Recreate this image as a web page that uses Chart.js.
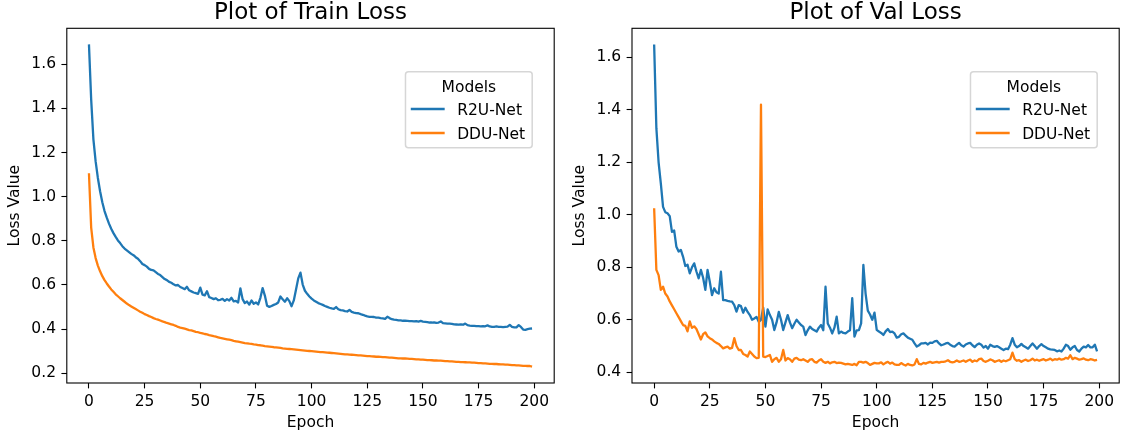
<!DOCTYPE html>
<html>
<head>
<meta charset="utf-8">
<script src="https://cdn.jsdelivr.net/npm/chart.js@4.4.1/dist/chart.umd.min.js"></script>
<style>
  html, body { margin: 0; padding: 0; background: #fff; }
  #wrap { position: relative; width: 1122px; height: 438px; }
  canvas { position: absolute; top: 0; }
  #train-loss { left: 0; }
  #val-loss { left: 561px; }
</style>
</head>
<body>
<div id="wrap">
  <canvas id="train-loss" width="561" height="438"></canvas>
  <canvas id="val-loss" width="561" height="438"></canvas>
</div>
<script>
const modelNames = ['R2U-Net', 'DDU-Net'];
const legendTitle = 'Models';
const panelTitles = ['Plot of Train Loss', 'Plot of Val Loss'];
const epochTicks = [0, 25, 50, 75, 100, 125, 150, 175, 200];
const trainYTicks = [0.2, 0.4, 0.6, 0.8, 1.0, 1.2, 1.4, 1.6];
const valYTicks = [0.4, 0.6, 0.8, 1.0, 1.2, 1.4, 1.6];

const trainR2U = [
  1.690, 1.440, 1.260, 1.160, 1.085, 1.025, 0.975, 0.935, 0.905, 0.878,
  0.855, 0.835, 0.818, 0.802, 0.790, 0.776, 0.765, 0.757, 0.749, 0.741,
  0.735, 0.726, 0.719, 0.708, 0.695, 0.690, 0.683, 0.673, 0.668, 0.666,
  0.658, 0.650, 0.645, 0.636, 0.627, 0.622, 0.614, 0.610, 0.603, 0.598,
  0.600, 0.591, 0.586, 0.581, 0.592, 0.576, 0.571, 0.566, 0.563, 0.560,
  0.588, 0.556, 0.553, 0.572, 0.545, 0.541, 0.536, 0.540, 0.531, 0.533,
  0.537, 0.528, 0.536, 0.530, 0.542, 0.526, 0.528, 0.521, 0.585, 0.536,
  0.518, 0.525, 0.511, 0.530, 0.515, 0.521, 0.512, 0.542, 0.586, 0.552,
  0.506, 0.501, 0.505, 0.510, 0.514, 0.521, 0.548, 0.535, 0.524, 0.540,
  0.527, 0.504, 0.530, 0.580, 0.630, 0.656, 0.602, 0.574, 0.560, 0.548,
  0.538, 0.530, 0.524, 0.518, 0.514, 0.510, 0.505, 0.501, 0.497, 0.494,
  0.492, 0.500, 0.490, 0.486, 0.485, 0.482, 0.480, 0.487, 0.478, 0.475,
  0.473, 0.472, 0.468, 0.465, 0.461, 0.458, 0.456, 0.456, 0.455, 0.452,
  0.452, 0.450, 0.449, 0.447, 0.456, 0.450, 0.445, 0.443, 0.442, 0.440,
  0.440, 0.438, 0.438, 0.437, 0.436, 0.436, 0.435, 0.436, 0.434, 0.437,
  0.434, 0.433, 0.432, 0.430, 0.430, 0.431, 0.428, 0.430, 0.435, 0.427,
  0.426, 0.425, 0.425, 0.424, 0.422, 0.421, 0.420, 0.422, 0.420, 0.425,
  0.418, 0.416, 0.415, 0.415, 0.414, 0.414, 0.413, 0.414, 0.413, 0.417,
  0.412, 0.410, 0.410, 0.412, 0.410, 0.410, 0.409, 0.410, 0.411, 0.419,
  0.410, 0.408, 0.408, 0.418, 0.410, 0.398, 0.397, 0.400, 0.402, 0.403
];

const trainDDU = [
  1.106, 0.860, 0.770, 0.722, 0.688, 0.662, 0.640, 0.622, 0.607, 0.593,
  0.580, 0.569, 0.558, 0.549, 0.540, 0.532, 0.524, 0.516, 0.509, 0.503,
  0.497, 0.491, 0.485, 0.479, 0.474, 0.468, 0.464, 0.459, 0.455, 0.450,
  0.446, 0.443, 0.439, 0.435, 0.432, 0.428, 0.425, 0.422, 0.419, 0.415,
  0.410, 0.407, 0.405, 0.402, 0.399, 0.396, 0.394, 0.391, 0.388, 0.386,
  0.383, 0.381, 0.378, 0.376, 0.373, 0.371, 0.368, 0.366, 0.363, 0.360,
  0.358, 0.356, 0.354, 0.352, 0.350, 0.347, 0.345, 0.343, 0.341, 0.339,
  0.337, 0.336, 0.334, 0.333, 0.331, 0.330, 0.328, 0.327, 0.325, 0.323,
  0.322, 0.321, 0.320, 0.318, 0.317, 0.316, 0.315, 0.313, 0.312, 0.311,
  0.310, 0.309, 0.308, 0.307, 0.306, 0.305, 0.304, 0.303, 0.302, 0.301,
  0.300, 0.299, 0.298, 0.297, 0.296, 0.296, 0.295, 0.294, 0.293, 0.292,
  0.291, 0.290, 0.289, 0.288, 0.287, 0.286, 0.286, 0.285, 0.284, 0.283,
  0.282, 0.281, 0.281, 0.280, 0.279, 0.278, 0.278, 0.277, 0.276, 0.275,
  0.275, 0.274, 0.273, 0.273, 0.272, 0.271, 0.271, 0.270, 0.269, 0.268,
  0.268, 0.267, 0.267, 0.266, 0.265, 0.265, 0.264, 0.263, 0.263, 0.262,
  0.262, 0.261, 0.260, 0.260, 0.259, 0.258, 0.258, 0.257, 0.257, 0.256,
  0.255, 0.255, 0.254, 0.254, 0.253, 0.252, 0.252, 0.251, 0.251, 0.250,
  0.249, 0.249, 0.248, 0.248, 0.247, 0.246, 0.246, 0.245, 0.245, 0.244,
  0.243, 0.243, 0.242, 0.242, 0.241, 0.240, 0.240, 0.239, 0.239, 0.238,
  0.237, 0.237, 0.236, 0.236, 0.235, 0.234, 0.234, 0.233, 0.233, 0.230
];

const valR2U = [
  1.649, 1.330, 1.200, 1.120, 1.030, 1.010, 1.006, 0.995, 0.935, 0.940,
  0.878, 0.860, 0.866, 0.840, 0.805, 0.810, 0.777, 0.800, 0.815, 0.784,
  0.758, 0.790, 0.760, 0.714, 0.790, 0.745, 0.694, 0.720, 0.705, 0.700,
  0.783, 0.675, 0.675, 0.672, 0.670, 0.669, 0.656, 0.631, 0.656, 0.652,
  0.627, 0.646, 0.630, 0.618, 0.600, 0.605, 0.611, 0.592, 0.600, 0.646,
  0.574, 0.640, 0.618, 0.600, 0.561, 0.590, 0.630, 0.600, 0.561, 0.590,
  0.618, 0.590, 0.568, 0.585, 0.600, 0.590, 0.580, 0.574, 0.542, 0.560,
  0.574, 0.565, 0.560, 0.555, 0.570, 0.580, 0.560, 0.726, 0.586, 0.570,
  0.548, 0.570, 0.612, 0.548, 0.555, 0.550, 0.548, 0.555, 0.560, 0.682,
  0.536, 0.560, 0.561, 0.586, 0.809, 0.700, 0.635, 0.620, 0.600, 0.627,
  0.562, 0.555, 0.550, 0.542, 0.556, 0.565, 0.553, 0.555, 0.548, 0.532,
  0.535, 0.545, 0.548, 0.540, 0.532, 0.528, 0.524, 0.510, 0.498, 0.503,
  0.510, 0.510, 0.512, 0.506, 0.513, 0.512, 0.518, 0.520, 0.510, 0.503,
  0.506, 0.510, 0.512, 0.505, 0.500, 0.498, 0.505, 0.512, 0.503, 0.498,
  0.506, 0.510, 0.512, 0.503, 0.496, 0.505, 0.510, 0.505, 0.494, 0.500,
  0.490, 0.505, 0.500, 0.497, 0.500, 0.495, 0.490, 0.485, 0.490, 0.488,
  0.505, 0.530, 0.505, 0.495, 0.500, 0.508, 0.500, 0.495, 0.490, 0.500,
  0.510, 0.500, 0.490, 0.500, 0.507, 0.500, 0.495, 0.490, 0.487, 0.486,
  0.485, 0.480, 0.483, 0.479, 0.490, 0.505, 0.500, 0.486, 0.495, 0.500,
  0.485, 0.479, 0.490, 0.498, 0.495, 0.504, 0.495, 0.495, 0.505, 0.480
];

const valDDU = [
  1.025, 0.790, 0.770, 0.714, 0.726, 0.700, 0.689, 0.670, 0.655, 0.640,
  0.625, 0.610, 0.595, 0.580, 0.577, 0.556, 0.594, 0.569, 0.575, 0.565,
  0.545, 0.525, 0.545, 0.552, 0.537, 0.530, 0.525, 0.518, 0.512, 0.508,
  0.500, 0.491, 0.495, 0.498, 0.490, 0.493, 0.530, 0.500, 0.485, 0.485,
  0.470, 0.466, 0.460, 0.479, 0.470, 0.460, 0.454, 0.455, 1.420, 0.460,
  0.458, 0.462, 0.466, 0.440, 0.450, 0.455, 0.440, 0.450, 0.485, 0.445,
  0.454, 0.450, 0.440, 0.452, 0.455, 0.448, 0.446, 0.450, 0.445, 0.440,
  0.448, 0.450, 0.440, 0.437, 0.445, 0.450, 0.440, 0.436, 0.440, 0.434,
  0.438, 0.440, 0.435, 0.437, 0.436, 0.433, 0.430, 0.432, 0.430, 0.428,
  0.432, 0.427, 0.440, 0.440, 0.437, 0.440, 0.435, 0.428, 0.432, 0.436,
  0.434, 0.434, 0.438, 0.430, 0.436, 0.440, 0.433, 0.437, 0.430, 0.428,
  0.428, 0.435, 0.430, 0.426, 0.432, 0.428, 0.426, 0.430, 0.450, 0.432,
  0.430, 0.436, 0.433, 0.437, 0.440, 0.436, 0.438, 0.440, 0.437, 0.440,
  0.440, 0.442, 0.446, 0.440, 0.438, 0.440, 0.445, 0.440, 0.442, 0.445,
  0.440, 0.445, 0.448, 0.440, 0.445, 0.442, 0.450, 0.452, 0.443, 0.440,
  0.444, 0.449, 0.446, 0.440, 0.443, 0.446, 0.440, 0.445, 0.442, 0.446,
  0.450, 0.475, 0.450, 0.444, 0.446, 0.440, 0.445, 0.448, 0.443, 0.446,
  0.452, 0.445, 0.448, 0.444, 0.447, 0.450, 0.445, 0.448, 0.452, 0.446,
  0.450, 0.448, 0.452, 0.448, 0.450, 0.455, 0.452, 0.465, 0.450, 0.455,
  0.452, 0.448, 0.450, 0.453, 0.448, 0.446, 0.450, 0.448, 0.445, 0.447
];

const colors = ['#1f77b4', '#ff7f0e'];
const FONT = '"DejaVu Sans", sans-serif';
Chart.defaults.font.family = FONT;

const toPoints = values => values.map((v, i) => ({ x: i, y: v }));

// matplotlib-style box around the axes
const axesFrame = {
  id: 'axesFrame',
  afterDatasetsDraw(chart) {
    const { ctx, chartArea: a } = chart;
    ctx.save();
    ctx.strokeStyle = '#000';
    ctx.lineWidth = 1.1;
    ctx.strokeRect(a.left, a.top, a.right - a.left, a.bottom - a.top);
    ctx.restore();
  }
};

// legend with a title, placed inside the axes like plt.legend(title=...)
const legendBox = {
  id: 'legendBox',
  afterDraw(chart) {
    const { ctx, chartArea } = chart;
    const sets = chart.data.datasets;
    ctx.save();
    ctx.font = '15.5px ' + FONT;
    const textW = Math.max(...sets.map(d => ctx.measureText(d.label).width));
    const w = 51.7 + textW + 7;
    const h = 76;
    const x = chartArea.right - 22 - w;
    const y = chartArea.top + 43.4;
    const r = 3;
    ctx.beginPath();
    ctx.moveTo(x + r, y);
    ctx.arcTo(x + w, y, x + w, y + h, r);
    ctx.arcTo(x + w, y + h, x, y + h, r);
    ctx.arcTo(x, y + h, x, y, r);
    ctx.arcTo(x, y, x + w, y, r);
    ctx.closePath();
    ctx.fillStyle = 'rgba(255,255,255,0.8)';
    ctx.fill();
    ctx.strokeStyle = 'rgba(204,204,204,0.8)';
    ctx.lineWidth = 1.5;
    ctx.stroke();

    ctx.fillStyle = '#000';
    ctx.textBaseline = 'alphabetic';
    ctx.textAlign = 'center';
    ctx.fillText(legendTitle, x + w / 2, y + 20);
    ctx.textAlign = 'left';
    sets.forEach((d, i) => {
      const ly = y + 37.3 + i * 24;
      ctx.strokeStyle = d.borderColor;
      ctx.lineWidth = 2.3;
      ctx.beginPath();
      ctx.moveTo(x + 5.3, ly);
      ctx.lineTo(x + 39.2, ly);
      ctx.stroke();
      ctx.fillText(d.label, x + 51.7, y + 43.3 + i * 24);
    });
    ctx.restore();
  }
};

const axisGrid = {
  display: true,
  drawOnChartArea: false,
  drawTicks: true,
  tickLength: 5.4,
  tickColor: '#000',
  tickWidth: 1.1
};

function drawLossChart(canvasId, title, r2u, ddu, yTicks, yMin, yMax, yAxisWidth, yTitlePad, padRight) {
  return new Chart(document.getElementById(canvasId), {
    type: 'line',
    data: {
      datasets: [
        { label: modelNames[0], data: toPoints(r2u), borderColor: colors[0], order: 1 },
        { label: modelNames[1], data: toPoints(ddu), borderColor: colors[1], order: 0 }
      ]
    },
    options: {
      responsive: false,
      animation: false,
      devicePixelRatio: 1,
      layout: { padding: { left: 0, top: 0, right: padRight, bottom: 0 } },
      elements: {
        line: { borderWidth: 2.3, tension: 0, borderJoinStyle: 'round', fill: false },
        point: { radius: 0, hoverRadius: 0 }
      },
      plugins: {
        legend: { display: false },
        tooltip: { enabled: false },
        title: {
          display: true,
          text: title,
          fullSize: false,
          color: '#000',
          font: { size: 23, weight: 'normal', lineHeight: 1 },
          padding: { top: 1.8, bottom: 3.5 }
        }
      },
      scales: {
        x: {
          type: 'linear',
          min: -9.95,
          max: 208.95,
          afterFit: s => { s.height = 55; },
          afterBuildTicks: s => { s.ticks = epochTicks.map(v => ({ value: v })); },
          grid: axisGrid,
          border: { display: false },
          ticks: {
            color: '#000',
            padding: 5.4,
            maxRotation: 0,
            autoSkip: false,
            font: { size: 15.5, lineHeight: 1 },
            callback: v => String(v)
          },
          title: {
            display: true,
            text: 'Epoch',
            color: '#000',
            font: { size: 15.5, lineHeight: 1 },
            padding: { top: 0, bottom: 7.65 }
          }
        },
        y: {
          type: 'linear',
          min: yMin,
          max: yMax,
          afterFit: s => { s.width = yAxisWidth; },
          afterBuildTicks: s => { s.ticks = yTicks.map(v => ({ value: v })); },
          grid: axisGrid,
          border: { display: false },
          ticks: {
            color: '#000',
            padding: 5.4,
            autoSkip: false,
            font: { size: 15.5, lineHeight: 1 },
            callback: v => v.toFixed(1)
          },
          title: {
            display: true,
            text: 'Loss Value',
            color: '#000',
            font: { size: 15.5, lineHeight: 1 },
            padding: { top: yTitlePad, bottom: 0 }
          }
        }
      }
    },
    plugins: [axesFrame, legendBox]
  });
}

drawLossChart('train-loss', panelTitles[0], trainR2U, trainDDU, trainYTicks, 0.156, 1.763, 66.8, 7.45, 6.8);
drawLossChart('val-loss', panelTitles[1], valR2U, valDDU, valYTicks, 0.3592, 1.7105, 71, 10.85, 2.8);
</script>
</body>
</html>
